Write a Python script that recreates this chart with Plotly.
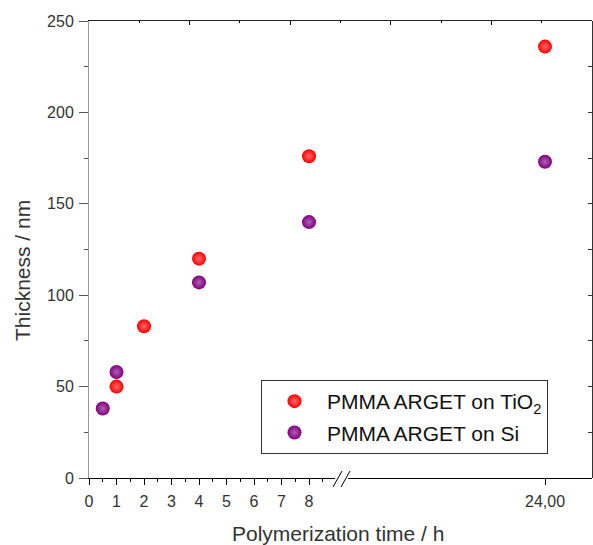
import plotly.graph_objects as go

# ---- data ----
tio2_time = [1, 2, 4, 8, 24]
tio2_thick = [50, 83, 120, 176, 236]
si_time = [0.5, 1, 4, 8, 24]
si_thick = [38, 58, 107, 140, 173]

x_left_ticks = [0, 1, 2, 3, 4, 5, 6, 7, 8]
x_right_ticks = [24]
x_right_ticktext = ["24,00"]
y_ticks = [0, 50, 100, 150, 200, 250]

BREAK = 12  # values above go on the right segment

W, H = 593, 545
ML, MR, MT, MB = 89, 1, 21, 67
PW, PH = W - ML - MR, H - MT - MB
PX = 27.5  # px per hour

def px2paper_x(px):
    return (px - ML) / PW

def px2paper_y(py):
    return (H - MB - py) / PH

left_end_px = 335
right_start_px = 348
left_range = [0, (left_end_px - ML) / PX]
right_range = [24 - (545 - right_start_px) / PX, 24 + (ML + PW - 545) / PX]

fig = go.Figure()

# empty traces first to create top frame axis and right frame axis subplots
fig.add_trace(go.Scatter(x=[], y=[], xaxis="x3", yaxis="y", showlegend=False))
fig.add_trace(go.Scatter(x=[], y=[], xaxis="x", yaxis="y2", showlegend=False))

series = [
    ("PMMA ARGET on TiO<sub>2</sub>", tio2_time, tio2_thick, "#ff0000", "#ff6a6a", "g1"),
    ("PMMA ARGET on Si", si_time, si_thick, "#800080", "#b060b0", "g2"),
]
for name, t, v, col, hi, grp in series:
    lx = [a for a, b in zip(t, v) if a <= BREAK]
    ly = [b for a, b in zip(t, v) if a <= BREAK]
    rx = [a for a, b in zip(t, v) if a > BREAK]
    ry = [b for a, b in zip(t, v) if a > BREAK]
    mk = dict(size=14, color=col, gradient=dict(type="radial", color=hi), line=dict(width=0))
    fig.add_trace(go.Scatter(x=lx, y=ly, mode="markers", name=name, marker=mk,
                             legendgroup=grp, xaxis="x", yaxis="y"))
    fig.add_trace(go.Scatter(x=rx, y=ry, mode="markers", name=name, marker=mk,
                             legendgroup=grp, showlegend=False, xaxis="x2", yaxis="y"))

tickfont = dict(family="Liberation Sans, Arial", size=16, color="#333333")

fig.update_layout(
    width=W, height=H,
    margin=dict(l=ML, r=MR, t=MT, b=MB),
    paper_bgcolor="white", plot_bgcolor="rgba(0,0,0,0)",
    font=dict(family="Liberation Sans, Arial", color="#333333"),
    xaxis=dict(domain=[0, px2paper_x(left_end_px)], range=left_range,
               tickvals=x_left_ticks, ticks="outside", ticklen=6, tickcolor="#000",
               minor=dict(dtick=0.5, tick0=0, ticks="outside", ticklen=3, tickcolor="#000"),
               showline=True, linecolor="#000", linewidth=1, showgrid=False, zeroline=False,
               tickfont=tickfont, anchor="y", ticklabelstandoff=3),
    xaxis2=dict(domain=[px2paper_x(right_start_px), 1], range=right_range,
                tickvals=x_right_ticks, ticktext=x_right_ticktext, ticks="outside", ticklen=6,
                tickcolor="#000", showline=True, linecolor="#000", linewidth=1,
                showgrid=False, zeroline=False, tickfont=tickfont, anchor="y", ticklabelstandoff=3),
    xaxis3=dict(domain=[0, 1], range=[0, 10], side="top", anchor="y", dtick=2, tick0=0,
                ticks="inside", ticklen=4, tickcolor="#000",
                minor=dict(dtick=1, ticks="inside", ticklen=2, tickcolor="#000"),
                showticklabels=False, showline=True, linecolor="#222", linewidth=1,
                showgrid=False, zeroline=False),
    yaxis=dict(domain=[0, 1], range=[0, 250], tickvals=y_ticks, ticks="outside", ticklen=9,
               tickcolor="#555",
               minor=dict(dtick=25, tick0=0, ticks="outside", ticklen=4, tickcolor="#555"),
               showline=True, linecolor="#999999", linewidth=1, showgrid=False, zeroline=False,
               tickfont=tickfont, anchor="x", ticklabelstandoff=2),
    yaxis2=dict(range=[0, 250], overlaying="y", anchor="free", position=1, side="right",
                dtick=25, tick0=0, ticks="inside", ticklen=4, tickcolor="#333",
                showticklabels=False, showline=True, linecolor="#333", linewidth=1,
                showgrid=False, zeroline=False),
    legend=dict(x=px2paper_x(261), y=px2paper_y(380), xanchor="left", yanchor="top",
                bordercolor="#333333", borderwidth=1, bgcolor="white",
                font=dict(family="Liberation Sans, Arial", size=21, color="#111111"),
                tracegroupgap=1, itemwidth=55),
    showlegend=True,
)

# axis titles
fig.add_annotation(text="Polymerization time / h", xref="paper", yref="paper",
                   x=px2paper_x(338), y=0, yshift=-55, xanchor="center", yanchor="middle",
                   showarrow=False, font=dict(size=21, color="#333333"))
fig.add_annotation(text="Thickness / nm", xref="paper", yref="paper",
                   x=0, xshift=-67, y=px2paper_y(271), textangle=-90,
                   xanchor="center", yanchor="middle",
                   showarrow=False, font=dict(size=21, color="#333333"))

# axis break marks "//"
for x0, x1 in [(333, 342), (341, 350)]:
    fig.add_shape(type="line", xref="paper", yref="paper",
                  x0=px2paper_x(x0), y0=px2paper_y(487), x1=px2paper_x(x1), y1=px2paper_y(471),
                  line=dict(color="#000", width=1))

fig.write_html("out.html")
